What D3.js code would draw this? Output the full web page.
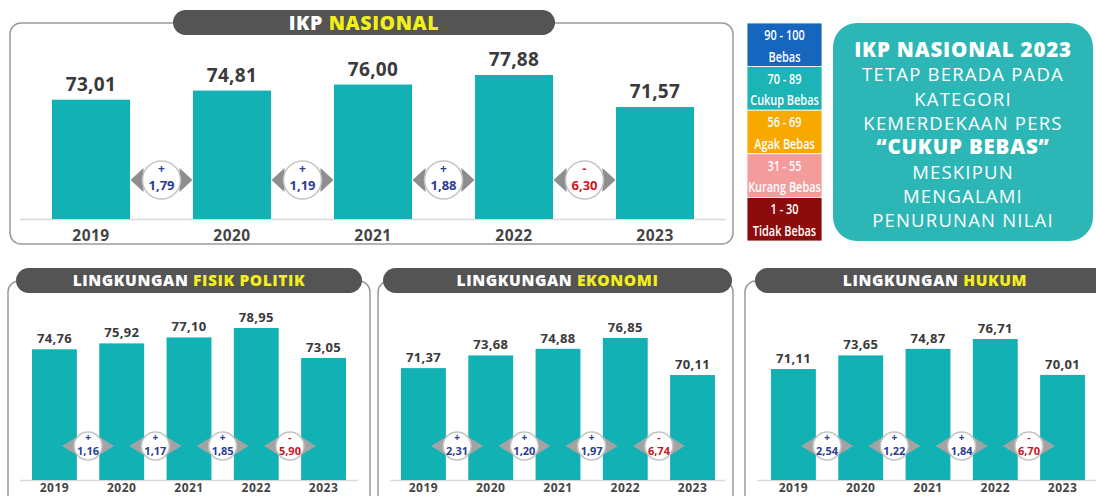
<!DOCTYPE html>
<html>
<head>
<meta charset="utf-8">
<script src="https://cdn.jsdelivr.net/npm/d3@7"></script>
<style>
body { margin: 0; background: #fff; }
svg { display: block; font-family: 'Open Sans', sans-serif; }
</style>
</head>
<body>
<svg width="1096" height="496"></svg>
<script>
// chart values
var years = ['2019', '2020', '2021', '2022', '2023'];
var nasional = [73.01, 74.81, 76.00, 77.88, 71.57];
var nasionalChange = [1.79, 1.19, 1.88, -6.30];
var fisikPolitik = [74.76, 75.92, 77.10, 78.95, 73.05];
var fisikPolitikChange = [1.16, 1.17, 1.85, -5.90];
var ekonomi = [71.37, 73.68, 74.88, 76.85, 70.11];
var ekonomiChange = [2.31, 1.20, 1.97, -6.74];
var hukum = [71.11, 73.65, 74.87, 76.71, 70.01];
var hukumChange = [2.54, 1.22, 1.84, -6.70];

var legendRanges = ['90 - 100', '70 - 89', '56 - 69', '31 - 55', '1 - 30'];
var legendLabels = ['Bebas', 'Cukup Bebas', 'Agak Bebas', 'Kurang Bebas', 'Tidak Bebas'];
var legendColors = ['#1766bd', '#1db4b6', '#f7a900', '#f49b9b', '#8c0b0d'];

var summaryLines = ['IKP NASIONAL 2023', 'TETAP BERADA PADA', 'KATEGORI', 'KEMERDEKAAN PERS',
                    '\u201CCUKUP BEBAS\u201D', 'MESKIPUN', 'MENGALAMI', 'PENURUNAN NILAI'];
var summaryBold = [true, false, false, false, true, false, false, false];

var teal = '#12b2b4';
var pillColor = '#545454';
var yellow = '#f2ef1c';
var frameColor = '#9a9a9a';

var idLocale = d3.formatLocale({decimal: ',', thousands: '.', grouping: [3], currency: ['Rp', '']});
var fmt = idLocale.format('.2f');

var svg = d3.select('svg');

// rounded frame plus dark title pill
function drawFrame(x0, x1, y0, y1, pill, titleA, titleB, fs) {
    svg.append('rect')
        .attr('x', x0).attr('y', y0)
        .attr('width', x1 - x0).attr('height', y1 - y0)
        .attr('rx', 11)
        .attr('fill', 'none')
        .attr('stroke', frameColor)
        .attr('stroke-width', 1.5);
    svg.append('rect')
        .attr('x', pill[0]).attr('y', pill[1])
        .attr('width', pill[2]).attr('height', pill[3])
        .attr('rx', pill[3] / 2)
        .attr('fill', pillColor);
    var t = svg.append('text')
        .attr('x', pill[0] + pill[2] / 2)
        .attr('y', pill[1] + pill[3] / 2 + fs * 0.36)
        .attr('text-anchor', 'middle')
        .attr('font-size', fs)
        .attr('font-weight', 800)
        .attr('letter-spacing', 0.6);
    t.append('tspan').attr('fill', '#fff').text(titleA + ' ');
    t.append('tspan').attr('fill', yellow).text(titleB);
}

function drawPanel(o) {
    var g = svg.append('g');

    var x = d3.scaleBand()
        .domain(years)
        .range(o.xRange)
        .paddingInner(o.pad)
        .paddingOuter(0);

    var y = d3.scaleLinear()
        .domain(o.domain)
        .range([o.baseY, o.topY]);

    // baseline
    g.append('line')
        .attr('x1', o.lineX[0]).attr('x2', o.lineX[1])
        .attr('y1', o.baseY + 0.5).attr('y2', o.baseY + 0.5)
        .attr('stroke', '#d9d9d9')
        .attr('stroke-width', 1.5);

    g.selectAll('.bar')
        .data(o.values)
        .enter().append('rect')
        .attr('class', 'bar')
        .attr('x', function(d, i) { return x(years[i]); })
        .attr('y', function(d) { return y(d); })
        .attr('width', x.bandwidth())
        .attr('height', function(d) { return o.baseY - y(d); })
        .attr('fill', teal);

    g.selectAll('.val')
        .data(o.values)
        .enter().append('text')
        .attr('class', 'val')
        .attr('x', function(d, i) { return x(years[i]) + x.bandwidth() / 2; })
        .attr('y', function(d) { return y(d) - o.valGap; })
        .attr('text-anchor', 'middle')
        .attr('font-size', o.valSize)
        .attr('font-weight', 700)
        .attr('letter-spacing', 0.3)
        .attr('fill', '#3a3a3a')
        .text(function(d) { return fmt(d); });

    // year labels via axis
    var axisG = g.append('g')
        .attr('transform', 'translate(0,' + o.yearY + ')')
        .call(d3.axisBottom(x).tickSize(0).tickPadding(0));
    axisG.select('.domain').remove();
    axisG.selectAll('text')
        .attr('dy', 0)
        .attr('font-family', "'Open Sans', sans-serif")
        .attr('font-size', o.yearSize)
        .attr('font-weight', 700)
        .attr('letter-spacing', 0.5)
        .attr('fill', '#454545');

    // change badges between bars
    var b = o.badge;
    var badges = g.selectAll('.badge')
        .data(o.changes)
        .enter().append('g')
        .attr('class', 'badge')
        .attr('transform', function(d, i) {
            var cx = (x(years[i]) + x.bandwidth() + x(years[i + 1])) / 2;
            return 'translate(' + [cx, b.cy] + ')';
        });

    badges.append('path')
        .attr('d', 'M' + (-b.r - b.tri) + ',0L' + (-b.r + 1) + ',' + (-b.triH) + 'L' + (-b.r + 1) + ',' + b.triH + 'Z' +
                   'M' + (b.r + b.tri) + ',0L' + (b.r - 1) + ',' + (-b.triH) + 'L' + (b.r - 1) + ',' + b.triH + 'Z')
        .attr('fill', b.triColor);

    badges.append('circle')
        .attr('r', b.r)
        .attr('fill', '#fff')
        .attr('stroke', '#c4c4c4')
        .attr('stroke-width', 1.5);

    badges.append('text')
        .attr('y', b.signY)
        .attr('text-anchor', 'middle')
        .attr('font-size', b.signFs)
        .attr('font-weight', 700)
        .attr('fill', function(d) { return d < 0 ? '#c8161d' : '#2c3e8f'; })
        .text(function(d) { return d < 0 ? '-' : '+'; });

    badges.append('text')
        .attr('y', b.numY)
        .attr('text-anchor', 'middle')
        .attr('font-size', b.fs)
        .attr('font-weight', 700)
        .attr('fill', function(d) { return d < 0 ? '#c8161d' : '#2c3e8f'; })
        .text(function(d) { return fmt(Math.abs(d)); });
}

// ---- top: IKP Nasional ----
drawFrame(10, 733, 23, 244, [173, 10, 382, 25], 'IKP', 'NASIONAL', 19.5);
drawPanel({
    values: nasional, changes: nasionalChange,
    xRange: [52, 694], pad: 0.447,
    domain: [49.5, 77.88], baseY: 219, topY: 75,
    lineX: [20, 726],
    valSize: 19, valGap: 9,
    yearY: 241, yearSize: 15.5,
    badge: {cy: 180, r: 19, tri: 12, triH: 12, fs: 13, signFs: 12, signY: -7, numY: 10, triColor: '#8e8e8e'}
});

// ---- bottom panels ----
var bottomBadge = {cy: 446, r: 14, tri: 12, triH: 8, fs: 11, signFs: 10, signY: -5, numY: 9, triColor: '#a3a3a3'};

drawFrame(8, 370, 281, 540, [16, 268, 346, 25], 'LINGKUNGAN', 'FISIK POLITIK', 15.5);
drawPanel({
    values: fisikPolitik, changes: fisikPolitikChange,
    xRange: [32, 346], pad: 0.333,
    domain: [49, 78.95], baseY: 480, topY: 328,
    lineX: [20, 358],
    valSize: 13, valGap: 6,
    yearY: 492, yearSize: 12,
    badge: bottomBadge
});

drawFrame(378, 733, 281, 540, [383, 268, 349, 25], 'LINGKUNGAN', 'EKONOMI', 15.5);
drawPanel({
    values: ekonomi, changes: ekonomiChange,
    xRange: [401, 715], pad: 0.333,
    domain: [51, 76.85], baseY: 480, topY: 338,
    lineX: [390, 725],
    valSize: 13, valGap: 6,
    yearY: 492, yearSize: 12,
    badge: bottomBadge
});

drawFrame(745, 1115, 281, 540, [755, 268, 360, 25], 'LINGKUNGAN', 'HUKUM', 15.5);
drawPanel({
    values: hukum, changes: hukumChange,
    xRange: [771, 1085], pad: 0.333,
    domain: [50.4, 76.71], baseY: 480, topY: 339,
    lineX: [757, 1096],
    valSize: 13, valGap: 6,
    yearY: 492, yearSize: 12,
    badge: bottomBadge
});

// ---- category legend ----
var legY = d3.scaleBand().domain(legendLabels).range([23, 241]);
var legG = svg.append('g');
var legItems = legG.selectAll('.leg')
    .data(legendLabels)
    .enter().append('g')
    .attr('class', 'leg')
    .attr('transform', function(d) { return 'translate(747,' + legY(d) + ')'; });
legItems.append('rect')
    .attr('width', 75)
    .attr('height', legY.bandwidth())
    .attr('fill', function(d, i) { return legendColors[i]; })
    .attr('stroke', '#fff')
    .attr('stroke-width', 0.8);
// narrow lettering: squeeze Open Sans horizontally
legItems.append('text')
    .attr('transform', 'translate(37.5,17) scale(0.78,1)')
    .attr('text-anchor', 'middle')
    .attr('font-size', 14)
    .attr('font-weight', 600)
    .attr('fill', '#fff')
    .text(function(d, i) { return legendRanges[i]; });
legItems.append('text')
    .attr('transform', 'translate(37.5,38.5) scale(0.78,1)')
    .attr('text-anchor', 'middle')
    .attr('font-size', 14)
    .attr('font-weight', 600)
    .attr('fill', '#fff')
    .text(function(d) { return d; });

// ---- summary box ----
svg.append('rect')
    .attr('x', 833).attr('y', 23)
    .attr('width', 260).attr('height', 218)
    .attr('rx', 24)
    .attr('fill', '#2db6b6');
svg.selectAll('.sum')
    .data(summaryLines)
    .enter().append('text')
    .attr('class', 'sum')
    .attr('x', 963)
    .attr('y', function(d, i) { return 57 + i * 24.3; })
    .attr('text-anchor', 'middle')
    .attr('font-size', function(d, i) { return summaryBold[i] ? 20.5 : 18.5; })
    .attr('font-weight', function(d, i) { return summaryBold[i] ? 800 : 400; })
    .attr('letter-spacing', function(d, i) { return summaryBold[i] ? 0.8 : 1.2; })
    .attr('fill', '#fff')
    .text(function(d) { return d; });
</script>
</body>
</html>
